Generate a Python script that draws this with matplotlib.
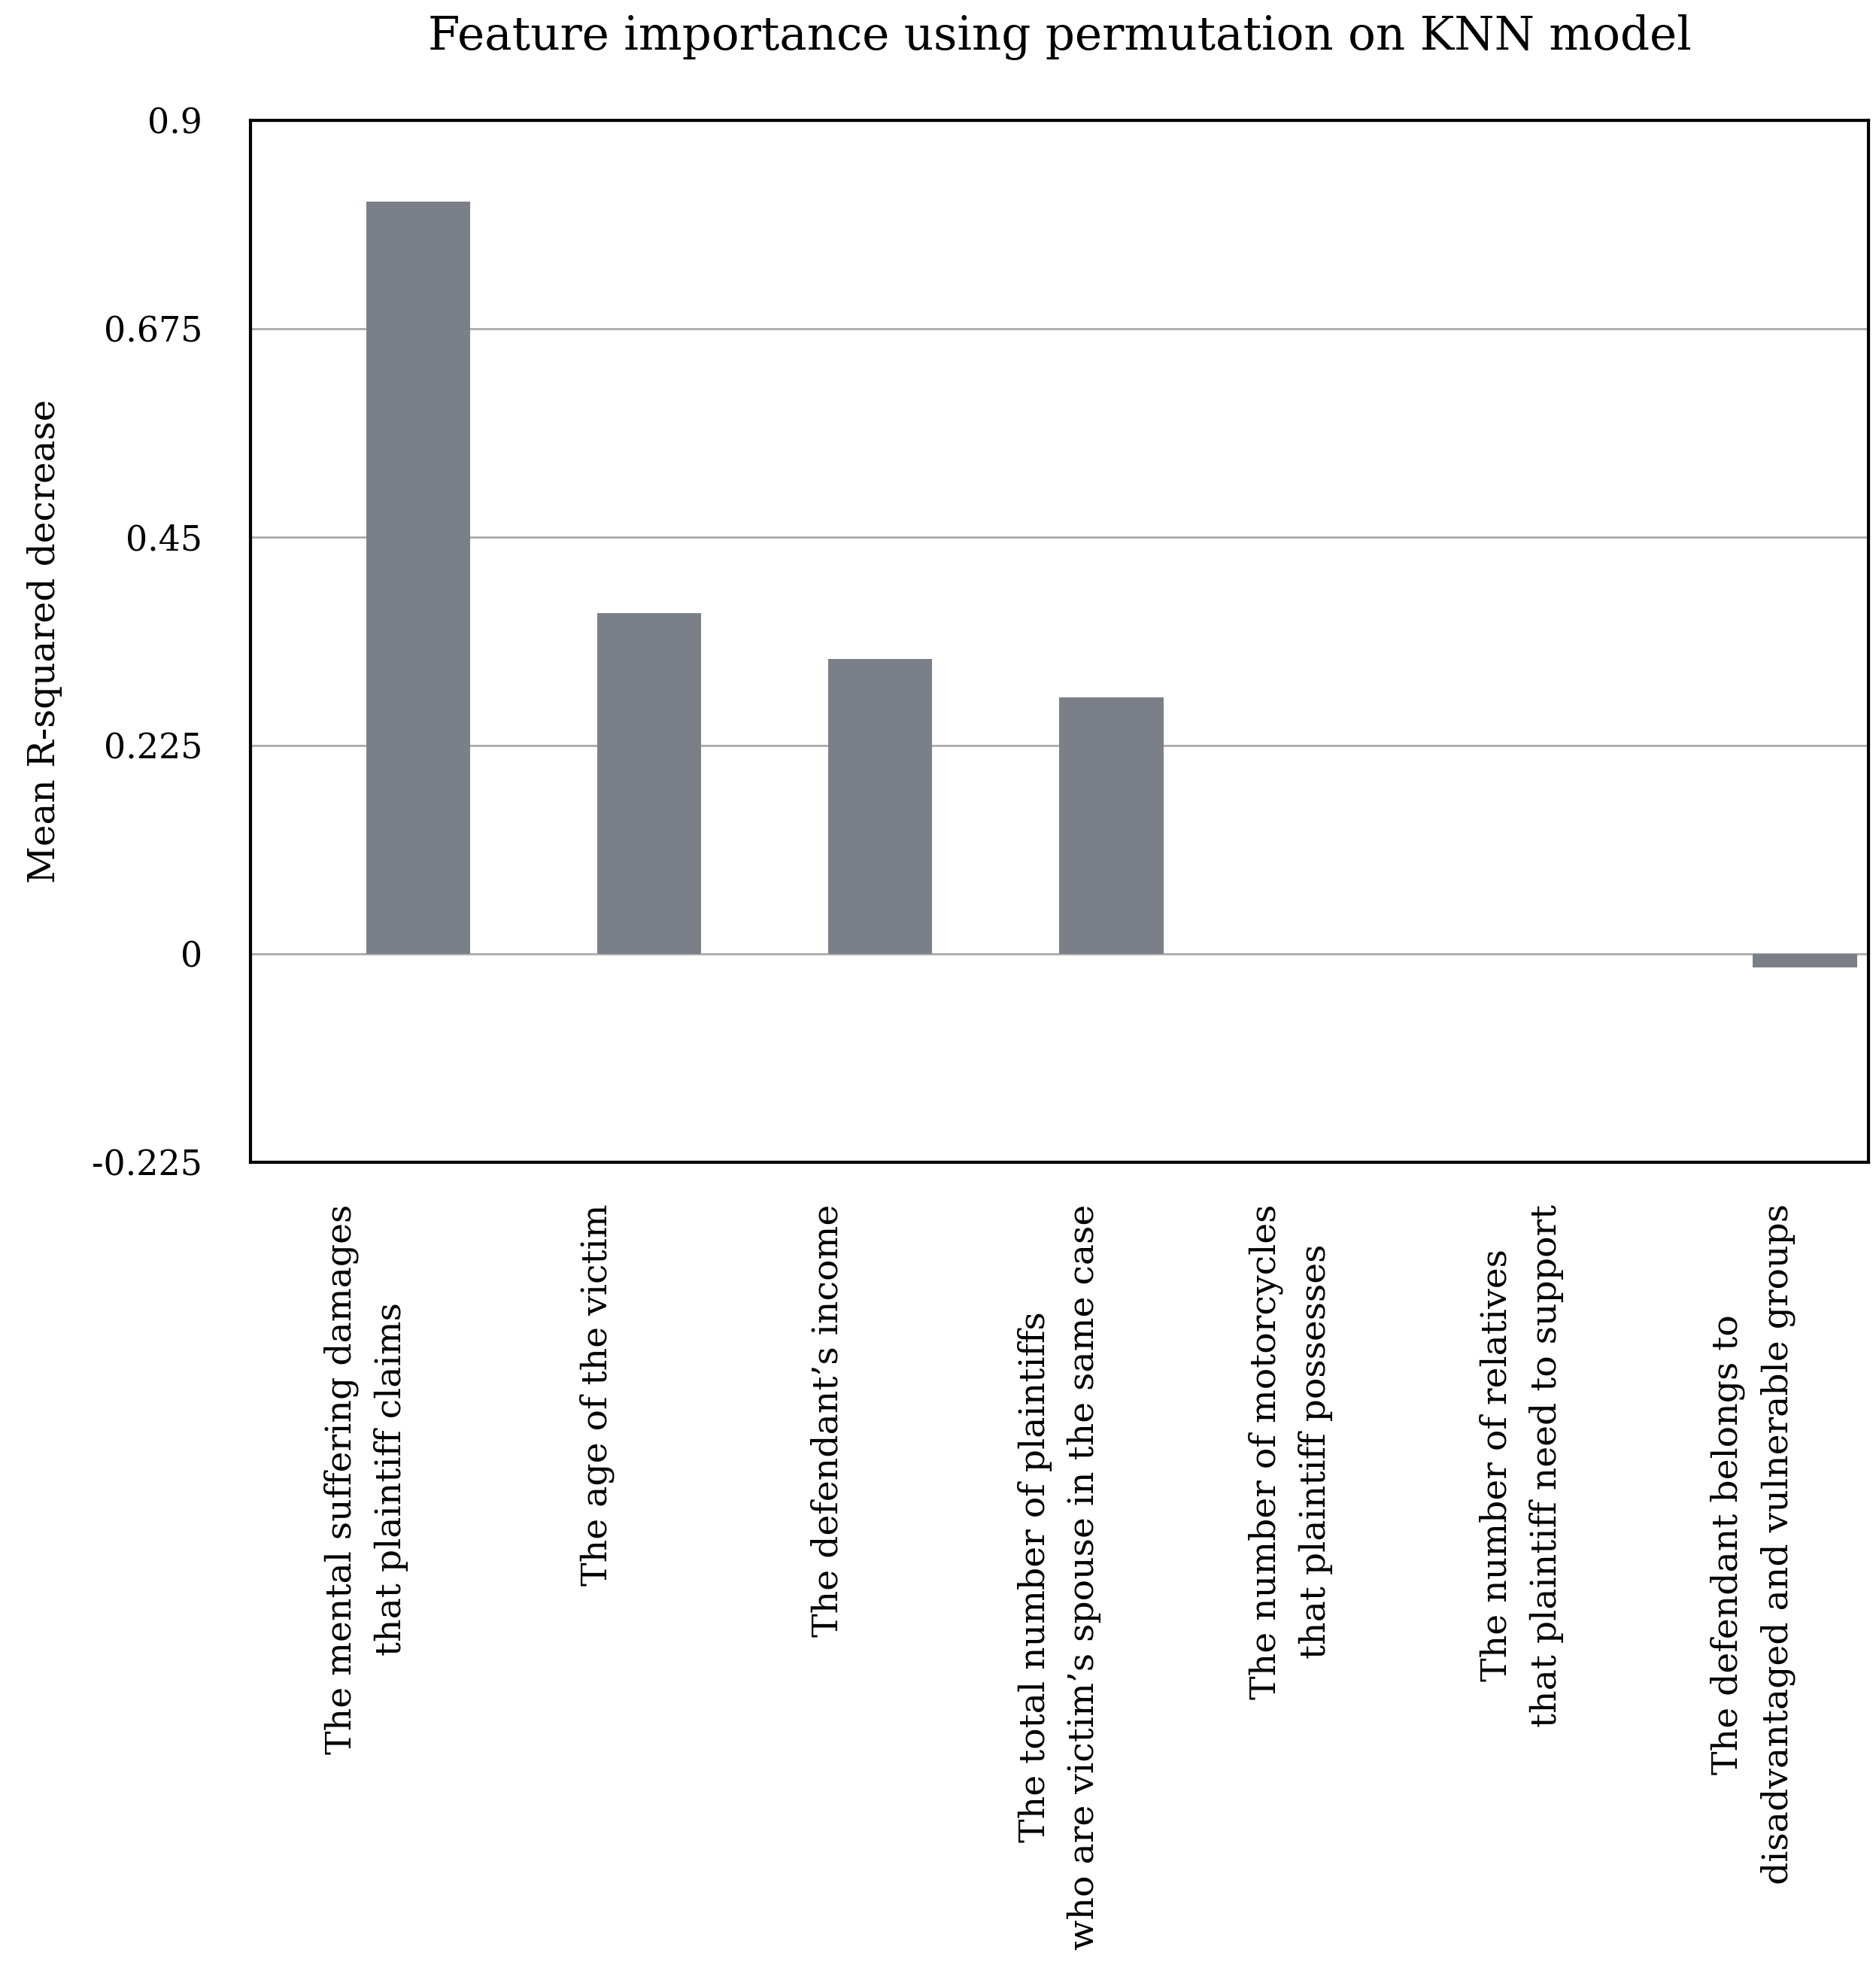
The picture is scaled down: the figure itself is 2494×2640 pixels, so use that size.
import numpy as np
import matplotlib.pyplot as plt

features = [
    "The mental suffering damages\nthat plaintiff claims",
    "The age of the victim",
    "The defendant\u2019s income",
    "The total number of plaintiffs\nwho are victim\u2019s spouse in the same case",
    "The number of motorcycles\nthat plaintiff possesses",
    "The number of relatives\nthat plaintiff need to support",
    "The defendant belongs to\ndisadvantaged and vulnerable groups",
]
importance = [0.812, 0.368, 0.318, 0.277, 0.0, 0.0, -0.015]
yticks = [-0.225, 0, 0.225, 0.45, 0.675, 0.9]
ytick_labels = ["-0.225", "0", "0.225", "0.45", "0.675", "0.9"]

plt.rcParams['font.family'] = ['DejaVu Serif']

fig, ax = plt.subplots(figsize=(24.94, 26.4), dpi=100)
fig.subplots_adjust(left=0.1335, right=0.996, top=0.9394, bottom=0.4148)

x = np.arange(len(features))
ax.bar(x, importance, width=0.45, align='edge', color='#7b8088', zorder=3)

ax.set_xlim(-0.5, len(features) - 0.5)
ax.set_ylim(-0.225, 0.9)
ax.set_yticks(yticks)
ax.set_yticklabels(ytick_labels, fontsize=33)
ax.set_xticks(x)
ax.set_xticklabels(features, rotation=90, fontsize=34, linespacing=1.55)

for y in [0, 0.225, 0.45, 0.675]:
    ax.axhline(y, color='#aaaaaa', linewidth=2, zorder=1)

for s in ax.spines.values():
    s.set_linewidth(3)
    s.set_color('black')

ax.tick_params(axis='both', length=0)
ax.tick_params(axis='x', pad=40)
ax.tick_params(axis='y', pad=46)

ax.set_ylabel("Mean R-squared decrease", fontsize=35, labelpad=28)
ax.set_title("Feature importance using permutation on KNN model", fontsize=44, pad=68)

fig.savefig("out.png", dpi=100)
